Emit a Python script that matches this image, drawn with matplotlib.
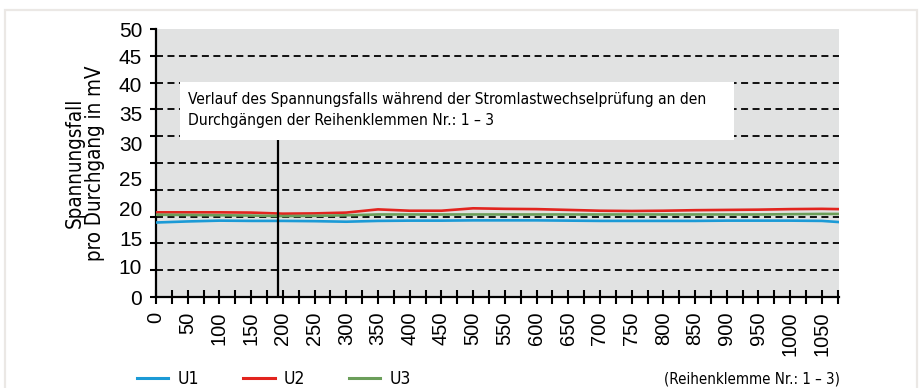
import matplotlib
matplotlib.use("Agg")
import matplotlib.pyplot as plt
from matplotlib.patches import Rectangle
from matplotlib.ticker import MultipleLocator, FixedLocator, NullFormatter
from matplotlib.lines import Line2D

# Zyklen (x) und Spannungsfall je Durchgang (mV)
zyklen = [0, 50, 100, 150, 200, 250, 300, 350, 400, 450, 500, 550,
          600, 650, 700, 750, 800, 850, 900, 950, 1000, 1050, 1075]
u1 = [13.9, 14.1, 14.25, 14.2, 14.2, 14.15, 14.05, 14.2, 14.25, 14.25, 14.3, 14.3,
      14.3, 14.25, 14.2, 14.2, 14.2, 14.2, 14.25, 14.25, 14.25, 14.2, 14.0]
u2 = [15.8, 15.8, 15.8, 15.75, 15.55, 15.6, 15.75, 16.35, 16.1, 16.1, 16.55, 16.45,
      16.4, 16.25, 16.1, 16.05, 16.1, 16.2, 16.25, 16.3, 16.4, 16.45, 16.4]
u3 = [15.35, 15.3, 15.25, 15.2, 15.1, 15.15, 15.25, 15.4, 15.4, 15.4, 15.4, 15.4,
      15.4, 15.4, 15.4, 15.4, 15.4, 15.4, 15.4, 15.4, 15.45, 15.5, 15.5]

y_tick_labels = ["0", "10", "15", "20", "25", "30", "35", "40", "45", "50"]
y_label_pos = [0, 5.6, 11.0, 16.6, 22.2, 28.7, 34.3, 39.6, 44.8, 50.0]
marker_zyklus = 192

titel = ("Verlauf des Spannungsfalls während der Stromlastwechselprüfung an den\n"
         "Durchgängen der Reihenklemmen Nr.: 1 – 3")

regular = ["Liberation Sans", "DejaVu Sans"]
cond = dict(family="DejaVu Sans", stretch="condensed")

farben = {"U1": "#1b9ad6", "U2": "#e2241e", "U3": "#6b9e5a"}

fig = plt.figure(figsize=(9.21, 3.88), dpi=100)
fig.patch.set_facecolor("white")

# heller Rahmen um die Grafik
fig.patches.append(Rectangle((0.0054, -0.02), 0.99, 0.994, transform=fig.transFigure,
                             fill=False, edgecolor="#ebe8e5", linewidth=1.6))

ax = fig.add_axes([0.1694, 0.2345, 0.7416, 0.6907])
ax.set_facecolor("#e1e2e2")
ax.set_xlim(0, 1077)
ax.set_ylim(0, 50)

for s in ("top", "right"):
    ax.spines[s].set_visible(False)
for s in ("left", "bottom"):
    ax.spines[s].set_linewidth(1.6)
    ax.spines[s].set_color("black")

# gestrichelte Hilfslinien
for y in range(5, 50, 5):
    ax.axhline(y, color="#111111", linestyle=(0, (3.6, 2.3)), linewidth=1.4, zorder=1)

ax.plot(zyklen, u1, color=farben["U1"], linewidth=1.9, zorder=3)
ax.plot(zyklen, u2, color=farben["U2"], linewidth=1.9, zorder=3)
ax.plot(zyklen, u3, color=farben["U3"], linewidth=1.9, zorder=3)

ax.plot([marker_zyklus, marker_zyklus], [0, 30], color="black", linewidth=1.6, zorder=4)

# Textfeld
ax.add_patch(Rectangle((38, 29.3), 874, 10.75, facecolor="white", edgecolor="none", zorder=5))
ax.text(50, 34.9, titel, ha="left", va="center", fontsize=11.2, linespacing=1.55,
        zorder=6, **cond)

# x-Achse
ax.xaxis.set_major_locator(MultipleLocator(50))
ax.xaxis.set_minor_locator(FixedLocator(range(25, 1077, 50)))
ax.tick_params(axis="x", which="both", direction="inout", length=9.5, width=1.5, color="black")
ax.tick_params(axis="x", which="major", labelrotation=90, labelsize=14.5, pad=6)
for lbl in ax.get_xticklabels():
    lbl.set_family(regular)

# y-Achse: Striche alle 5, Beschriftung separat
ax.yaxis.remove_overlapping_locs = False
ax.yaxis.set_major_locator(MultipleLocator(5))
ax.yaxis.set_major_formatter(NullFormatter())
ax.tick_params(axis="y", which="major", direction="out", length=4.5, width=1.5, color="black")
ax.yaxis.set_minor_locator(FixedLocator(y_label_pos))
ax.set_yticklabels(y_tick_labels, minor=True)
ax.tick_params(axis="y", which="minor", length=0, labelsize=15, pad=10)
for lbl in ax.get_yticklabels(minor=True):
    lbl.set_family(regular)

ax.set_ylabel("Spannungsfall\npro Durchgang in mV", fontsize=14.8, linespacing=1.0, **cond)
ax.yaxis.set_label_coords(-0.075, 0.5)

# Legende
handles = [Line2D([], [], color=farben[k], linewidth=2.2) for k in ("U1", "U2", "U3")]
fig.legend(handles, ["U1", "U2", "U3"], loc="center left", bbox_to_anchor=(0.149, 0.024),
           ncol=3, frameon=False, handlelength=1.8, handletextpad=0.55, columnspacing=2.52,
           prop={**cond, "size": 12.5}, borderaxespad=0, borderpad=0)
fig.text(0.912, 0.022, "(Reihenklemme Nr.: 1 – 3)", ha="right", va="center",
         fontsize=10.8, **cond)

fig.savefig("out.png", dpi=100)
